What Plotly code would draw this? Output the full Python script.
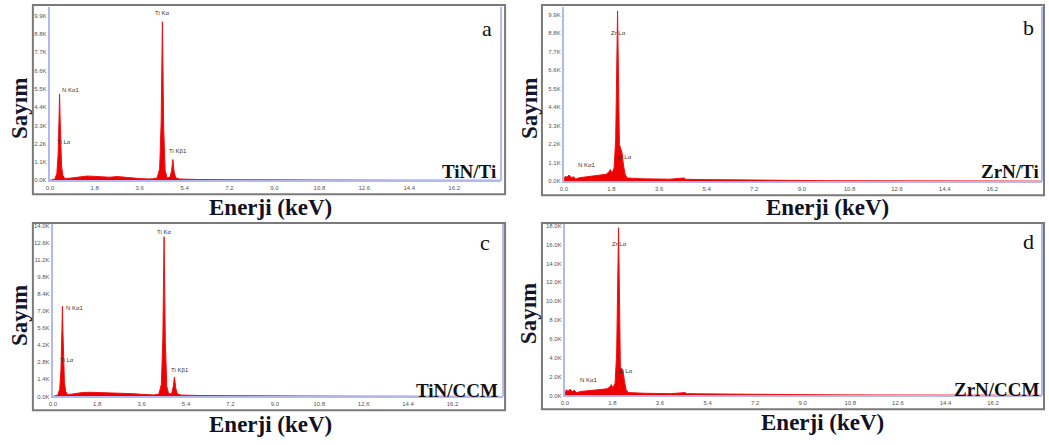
import plotly.graph_objects as go

# ---------------- data ----------------
# Panel a: TiN/Ti
A_E = [0.0, 0.1, 0.2, 0.28, 0.33, 0.37, 0.39, 0.41, 0.44, 0.47, 0.52, 0.6, 0.8, 1.0, 1.2, 1.5, 1.8, 2.1,
       2.4, 2.7, 3.0, 3.3, 3.6, 3.9, 4.1, 4.3, 4.4, 4.46, 4.51, 4.56, 4.62, 4.7, 4.82, 4.88, 4.93, 4.98,
       5.05, 5.2, 5.5, 6.0, 7.0, 8.0, 9.0, 10.0, 12.0, 14.0, 16.0, 18.1]
A_C = [0, 30, 80, 400, 1500, 3800, 5200, 3900, 2300, 900, 300, 120, 130, 170, 220, 260, 240, 220,
       190, 230, 180, 150, 110, 90, 90, 150, 700, 3500, 9540, 3200, 600, 150, 200, 600, 1250, 500,
       150, 80, 60, 50, 40, 30, 25, 20, 15, 10, 8, 5]

# Panel b: ZrN/Ti
B_E = [0.0, 0.05, 0.12, 0.2, 0.28, 0.35, 0.45, 0.6, 0.8, 1.0, 1.2, 1.4, 1.6, 1.7, 1.76, 1.82, 1.9,
       1.96, 2.0, 2.03, 2.05, 2.07, 2.1, 2.14, 2.2, 2.26, 2.32, 2.4, 2.6, 3.0, 3.5, 4.0, 4.55, 4.6,
       5.0, 6.0, 7.0, 8.0, 9.0, 10.0, 12.0, 14.0, 16.0, 18.1]
B_C = [0, 300, 250, 380, 200, 280, 150, 220, 260, 300, 330, 380, 420, 550, 700, 500, 800,
       2500, 6000, 10130, 8000, 3500, 2200, 2000, 1700, 900, 400, 200, 170, 150, 140, 130, 200, 130,
       110, 90, 70, 60, 50, 40, 30, 25, 20, 15]

# Panel c: TiN/CCM
C_E = [0.0, 0.1, 0.2, 0.28, 0.33, 0.37, 0.39, 0.41, 0.44, 0.47, 0.52, 0.6, 0.8, 1.0, 1.2, 1.5, 1.8, 2.1,
       2.4, 2.7, 3.0, 3.3, 3.6, 3.9, 4.1, 4.3, 4.4, 4.46, 4.51, 4.56, 4.62, 4.7, 4.82, 4.88, 4.93, 4.98,
       5.05, 5.2, 5.5, 6.0, 7.0, 8.0, 9.0, 10.0, 12.0, 14.0, 16.0, 18.1]
C_C = [0, 40, 100, 600, 2200, 5500, 7400, 5300, 3000, 1200, 400, 150, 200, 260, 320, 340, 330, 320,
       300, 280, 260, 220, 170, 130, 120, 200, 1000, 4800, 13100, 4500, 800, 200, 250, 800, 1600, 700,
       200, 110, 80, 70, 60, 45, 35, 30, 20, 15, 10, 8]

# Panel d: ZrN/CCM
D_E = [0.0, 0.05, 0.12, 0.2, 0.28, 0.35, 0.45, 0.6, 0.8, 1.0, 1.2, 1.4, 1.6, 1.7, 1.76, 1.82, 1.9,
       1.96, 2.0, 2.03, 2.05, 2.07, 2.1, 2.14, 2.2, 2.26, 2.32, 2.4, 2.6, 3.0, 3.5, 4.0, 4.55, 4.6,
       5.0, 6.0, 7.0, 8.0, 9.0, 10.0, 12.0, 14.0, 16.0, 18.1]
D_C = [0, 600, 450, 650, 400, 550, 300, 420, 480, 540, 600, 650, 700, 900, 1150, 800, 1300,
       4500, 11000, 17800, 14000, 5500, 3000, 2900, 2600, 1400, 600, 300, 260, 230, 210, 190, 300, 190,
       170, 140, 110, 90, 75, 60, 45, 35, 28, 20]

X_TICKS = [0.0, 1.8, 3.6, 5.4, 7.2, 9.0, 10.8, 12.6, 14.4, 16.2]
X_TICKTEXT = ["0.0", "1.8", "3.6", "5.4", "7.2", "9.0", "10.8", "12.6", "14.4", "16.2"]

A_YT = [0, 1100, 2200, 3300, 4400, 5500, 6600, 7700, 8800, 9900]
A_YTT = ["0.0K", "1.1K", "2.2K", "3.3K", "4.4K", "5.5K", "6.6K", "7.7K", "8.8K", "9.9K"]
B_YT = A_YT
B_YTT = A_YTT
C_YT = [0, 1400, 2800, 4200, 5600, 7000, 8400, 9800, 11200, 12600, 14000]
C_YTT = ["0.0K", "1.4K", "2.8K", "4.2K", "5.6K", "7.0K", "8.4K", "9.8K", "11.2K", "12.6K", "14.0K"]
D_YT = [0, 2000, 4000, 6000, 8000, 10000, 12000, 14000, 16000, 18000]
D_YTT = ["0.0K", "2.0K", "4.0K", "6.0K", "8.0K", "10.0K", "12.0K", "14.0K", "16.0K", "18.0K"]

PANEL_LETTERS = ["a", "b", "c", "d"]
SAMPLES = ["TiN/Ti", "ZrN/Ti", "TiN/CCM", "ZrN/CCM"]
Y_TITLE = "Sayım"
X_TITLE = "Enerji (keV)"

# peak labels: (panel, energy, count, text, anchor)
PEAKS = [
    (0, 0.42, 5450, "N Kα1", "left"), (0, 0.2, 2300, "Ti Lα", "left"),
    (0, 4.5, 10050, "Ti Kα", "center"), (0, 4.7, 1750, "Ti Kβ1", "left"),
    (1, 2.05, 8850, "Zr Lα", "center"), (1, 1.95, 1450, "Zr Lα", "left"),
    (1, 0.45, 950, "N Kα1", "left"),
    (2, 0.45, 7250, "N Kα1", "left"), (2, 0.22, 3000, "Ti Lα", "left"),
    (2, 4.5, 13500, "Ti Kα", "center"), (2, 4.7, 2200, "Ti Kβ1", "left"),
    (3, 2.05, 16100, "Zr Lα", "center"), (3, 1.95, 2550, "Zr Lα", "left"),
    (3, 0.5, 1600, "N Kα1", "left"),
]

# ---------------- layout geometry (pixels) ----------------
W, H = 1049, 445
PLOT_BOX = [(46, 499, 6, 181), (562, 1042, 6, 182), (49, 501, 225, 399), (563, 1042, 225, 398)]
OUTER_BOX = [(29, 503, 4, 195), (540, 1044, 4, 196), (29, 503, 224, 413), (540, 1044, 224, 412)]
Y_RANGES = [10430, 10370, 14150, 18200]
X_MAX = [18.08, 18.08, 18.25, 18.05]
YTITLE_POS = [(15, 108), (527, 108), (15, 317), (526, 315)]
XTITLE_POS = [(268, 208), (827, 208), (268, 427), (822, 425)]
LETTER_POS = [(485, 28), (1028, 27), (483, 244), (1028, 243)]
SAMPLE_POS = [(496, 172), (1041, 172), (498, 393), (1042, 392)]

def px(x):
    return x / W

def py(y):
    return 1 - y / H

series = [(A_E, A_C, A_YT, A_YTT), (B_E, B_C, B_YT, B_YTT), (C_E, C_C, C_YT, C_YTT), (D_E, D_C, D_YT, D_YTT)]

fig = go.Figure()
layout = dict(width=W, height=H, margin=dict(l=0, r=0, t=0, b=0), showlegend=False,
              plot_bgcolor="white", paper_bgcolor="white")
shapes = []
annotations = []

tickfont = dict(family="Liberation Sans, Arial, sans-serif", size=6, color="#555555")
serif = "Liberation Serif, Times New Roman, serif"

for i, (E, C, yt, ytt) in enumerate(series):
    n = "" if i == 0 else str(i + 1)
    xa, ya = "x" + n, "y" + n
    fig.add_trace(go.Scatter(x=E, y=C, mode="lines", fill="tozeroy",
                             line=dict(color="#ee1111", width=1), fillcolor="#ee0000",
                             xaxis=xa, yaxis=ya, hoverinfo="skip"))
    x0, x1, y0, y1 = PLOT_BOX[i]
    layout["xaxis" + n] = dict(domain=[px(x0), px(x1)], anchor=ya, range=[0, X_MAX[i]],
                               tickvals=X_TICKS, ticktext=X_TICKTEXT, tickfont=tickfont,
                               showgrid=False, zeroline=False, showline=True,
                               linecolor="#b4b8f2", linewidth=2, ticks="")
    layout["yaxis" + n] = dict(domain=[py(y1), py(y0)], anchor=xa, range=[0, Y_RANGES[i]],
                               tickvals=yt, ticktext=ytt, tickfont=tickfont,
                               showgrid=False, zeroline=False, showline=True,
                               linecolor="#b4b8f2", linewidth=2, ticks="")
    # right blue edge
    shapes.append(dict(type="line", xref=xa + " domain", yref=ya + " domain",
                       x0=1, x1=1, y0=0, y1=1, line=dict(color="#b4b8f2", width=2)))
    # outer gray frame
    ox0, ox1, oy0, oy1 = OUTER_BOX[i]
    shapes.append(dict(type="rect", xref="paper", yref="paper",
                       x0=px(ox0), x1=px(ox1), y0=py(oy1), y1=py(oy0),
                       line=dict(color="#7a7a7a", width=2)))
    tx, ty = YTITLE_POS[i]
    annotations.append(dict(text="<b>" + Y_TITLE + "</b>", xref="paper", yref="paper",
                            x=px(tx), y=py(ty), xanchor="center", yanchor="middle", textangle=-90,
                            showarrow=False, font=dict(family=serif, size=23, color="#15152e")))
    tx, ty = XTITLE_POS[i]
    annotations.append(dict(text="<b>" + X_TITLE + "</b>", xref="paper", yref="paper",
                            x=px(tx), y=py(ty), xanchor="center", yanchor="middle", showarrow=False,
                            font=dict(family=serif, size=23, color="#111122")))
    tx, ty = LETTER_POS[i]
    annotations.append(dict(text=PANEL_LETTERS[i], xref="paper", yref="paper",
                            x=px(tx), y=py(ty), xanchor="center", yanchor="middle", showarrow=False,
                            font=dict(family=serif, size=22, color="#111111")))
    tx, ty = SAMPLE_POS[i]
    annotations.append(dict(text="<b>" + SAMPLES[i] + "</b>", xref="paper", yref="paper",
                            x=px(tx), y=py(ty), xanchor="right", yanchor="middle", showarrow=False,
                            font=dict(family=serif, size=19, color="#111111")))

for (p, e, c, t, anc) in PEAKS:
    n = "" if p == 0 else str(p + 1)
    annotations.append(dict(text=t, x=e, y=c, xref="x" + n, yref="y" + n, xanchor=anc,
                            yanchor="middle", showarrow=False,
                            font=dict(family="Liberation Sans, Arial, sans-serif", size=6, color="#333333")))

layout["shapes"] = shapes
layout["annotations"] = annotations
fig.update_layout(**layout)
fig.write_html("out.html")
